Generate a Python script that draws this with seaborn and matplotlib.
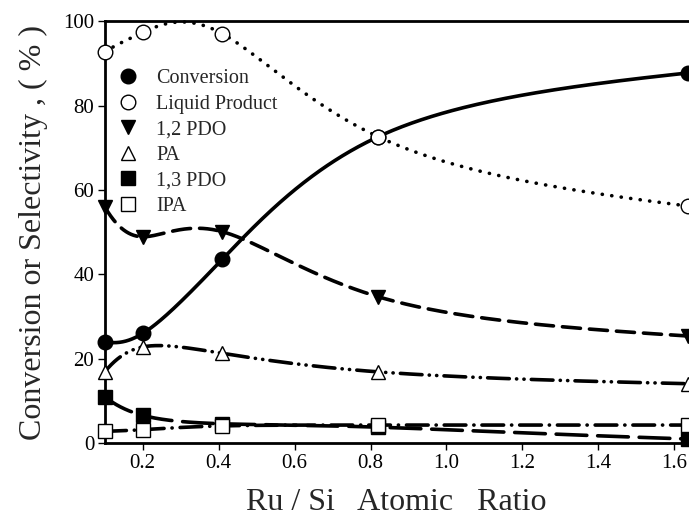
import numpy as np
import pandas as pd
import matplotlib
matplotlib.use("Agg")
import matplotlib.pyplot as plt
import seaborn as sns
from matplotlib.lines import Line2D

# ---- data ----
ratio = [0.10, 0.20, 0.41, 0.82, 1.635]
conversion = [24.0, 26.0, 43.6, 72.6, 87.7]
liquid_product = [92.7, 97.3, 97.0, 72.6, 56.2]
pdo12 = [56.0, 48.9, 50.1, 34.7, 25.4]
pa = [16.9, 22.8, 21.3, 16.9, 14.1]
pdo13 = [11.0, 6.6, 4.6, 3.8, 1.0]
ipa = [2.8, 3.2, 4.1, 4.3, 4.3]
series_names = ["Conversion", "Liquid Product", "1,2 PDO", "PA", "1,3 PDO", "IPA"]
y_ticks = [0, 20, 40, 60, 80, 100]
x_ticks = [0.2, 0.4, 0.6, 0.8, 1.0, 1.2, 1.4, 1.6]

sns.set_theme(style="ticks")
plt.rcParams["font.family"] = ["Liberation Serif", "DejaVu Serif"]


def natural_spline(x, y, xs):
    x = np.asarray(x, float)
    y = np.asarray(y, float)
    n = len(x)
    h = np.diff(x)
    A = np.zeros((n, n))
    r = np.zeros(n)
    A[0, 0] = 1
    A[-1, -1] = 1
    for i in range(1, n - 1):
        A[i, i - 1] = h[i - 1]
        A[i, i] = 2 * (h[i - 1] + h[i])
        A[i, i + 1] = h[i]
        r[i] = 6 * ((y[i + 1] - y[i]) / h[i] - (y[i] - y[i - 1]) / h[i - 1])
    M = np.linalg.solve(A, r)
    out = np.empty_like(xs)
    for k, xv in enumerate(xs):
        i = min(max(np.searchsorted(x, xv) - 1, 0), n - 2)
        t0 = x[i + 1] - xv
        t1 = xv - x[i]
        out[k] = (M[i] * t0 ** 3 / (6 * h[i]) + M[i + 1] * t1 ** 3 / (6 * h[i])
                  + (y[i] / h[i] - M[i] * h[i] / 6) * t0
                  + (y[i + 1] / h[i] - M[i + 1] * h[i] / 6) * t1)
    return out


fig = plt.figure(figsize=(6.89, 5.27), dpi=100)
ax = fig.add_axes([0.152, 0.159, 0.846, 0.801])

series = [conversion, liquid_product, pdo12, pa, pdo13, ipa]
styles = [
    dict(ls="-", marker="o", mfc="black"),
    dict(ls=(0, (0.05, 2.6)), marker="o", mfc="white"),
    dict(ls=(0, (5.0, 2.5)), marker="v", mfc="black"),
    dict(ls=(0, (6, 2, 0.05, 2, 0.05, 2)), marker="^", mfc="white"),
    dict(ls=(0, (8.5, 3)), marker="s", mfc="black"),
    dict(ls=(0, (6, 2.2, 0.05, 2.2)), marker="s", mfc="white"),
]

lx = np.log(ratio)
lxs = np.linspace(lx[0], lx[-1], 500)
xs = np.exp(lxs)
for name, vals, st in zip(series_names, series, styles):
    ys = natural_spline(lx, vals, lxs)
    line_df = pd.DataFrame({"x": xs, "y": ys})
    sns.lineplot(data=line_df, x="x", y="y", ax=ax, color="black", lw=2.6,
                 linestyle=st["ls"], solid_capstyle="butt", dash_capstyle="round",
                 clip_on=False, zorder=2, sort=False)
    pt_df = pd.DataFrame({"x": ratio, "y": vals})
    msz = 10.5 if st["marker"] in ("o", "v", "^") else 10
    ax.plot(pt_df["x"], pt_df["y"], ls="none", marker=st["marker"], ms=msz,
            mfc=st["mfc"], mec="black", mew=1.0, clip_on=False, zorder=3)

ax.set_xlim(0.1, 1.635)
ax.set_ylim(0, 100)
ax.set_xticks(x_ticks)
ax.set_xticklabels([f"{v:.1f}" for v in x_ticks])
ax.set_yticks(y_ticks)
ax.set_yticklabels([str(v) for v in y_ticks])
ax.tick_params(direction="out", length=5, width=1, labelsize=15, colors="black", pad=2.5)

for s in ["left", "bottom", "top"]:
    ax.spines[s].set_linewidth(2.0)
    ax.spines[s].set_color("black")
ax.spines["right"].set_visible(False)

ax.set_xlabel("Ru / Si   Atomic   Ratio", fontsize=23, labelpad=11)
ax.set_ylabel("Conversion or Selectivity , ( % )", fontsize=23, labelpad=11)

handles = [Line2D([], [], ls="none", marker=st["marker"], ms=10.5 if st["marker"] != "s" else 10,
                  mfc=st["mfc"], mec="black", mew=1.0) for st in styles]
leg = ax.legend(handles, series_names, loc="upper left", bbox_to_anchor=(0.005, 0.905),
                frameon=False, fontsize=14.5, handletextpad=0.8, labelspacing=0.32,
                handlelength=1.2, borderaxespad=0)

fig.savefig("out.png", dpi=100)
